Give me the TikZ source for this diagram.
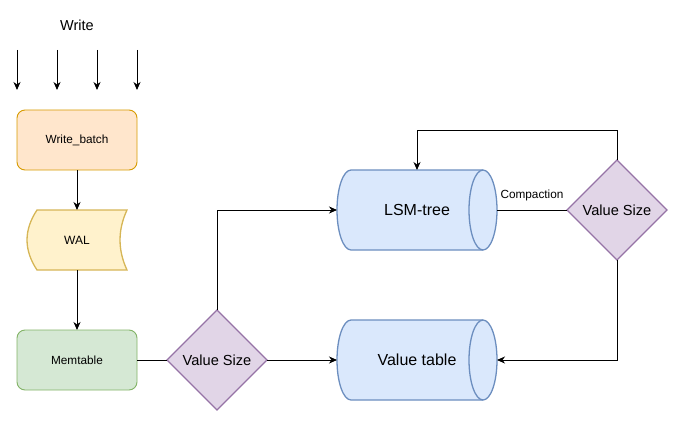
\documentclass[tikz,border=0pt]{standalone}
\usepackage{fontspec}
\setmainfont{Liberation Sans}
\usetikzlibrary{arrows.meta,shapes.geometric}
\definecolor{wbfill}{HTML}{FFE6CC}
\definecolor{wbline}{HTML}{D79B00}
\definecolor{walfill}{HTML}{FFF2CC}
\definecolor{walline}{HTML}{D6B656}
\definecolor{mtfill}{HTML}{D5E8D4}
\definecolor{mtline}{HTML}{82B366}
\definecolor{dfill}{HTML}{E1D5E7}
\definecolor{dline}{HTML}{9673A6}
\definecolor{cfill}{HTML}{DAE8FC}
\definecolor{cline}{HTML}{6C8EBF}
\tikzset{
  arr/.style={line width=0.9pt, -{Stealth[length=8pt,width=7pt,inset=2.5pt]}},
  conn/.style={line width=0.9pt},
  smalltext/.style={font=\fontsize{11.8}{14}\selectfont},
  box/.style={rounded corners=8pt, minimum width=120pt, minimum height=60pt, line width=0.9pt, inner sep=0pt, outer sep=0pt, smalltext},
  dia/.style={diamond, aspect=1, draw=dline, fill=dfill, minimum width=100pt, minimum height=100pt, inner sep=0pt, outer sep=0pt, line width=1.3pt, font=\fontsize{14.6}{17}\selectfont},
  cylbody/.style={draw=cline, fill=cfill, line width=1.3pt},
  cyltext/.style={minimum width=160pt, minimum height=80pt, inner sep=0pt, outer sep=0pt, font=\fontsize{16}{19}\selectfont},
}
\begin{document}
\begin{tikzpicture}[x=1pt,y=1pt]
\useasboundingbox (0,0) rectangle (679,421);
% Write label and input arrows
\node[font=\fontsize{14.5}{17}\selectfont] (write) at (77,396) {Write};
\foreach \i/\x in {1/17,2/57,3/97,4/137}{
  \coordinate (a\i) at (\x,371);
  \coordinate (b\i) at (\x,331);
  \draw[arr] (a\i) -- (b\i);
}
% Write_batch
\node[box, draw=wbline, fill=wbfill] (wb) at (77,281) {Write\_batch};
% WAL shape
\filldraw[draw=walline, fill=walfill, line width=1.3pt]
  (37,211) -- (127,211) .. controls (117.7,191) and (117.7,171) .. (127,151)
  -- (37,151) .. controls (23.7,171) and (23.7,191) .. (37,211) -- cycle;
\node[minimum width=100pt, minimum height=60pt, inner sep=0pt, outer sep=0pt, font=\fontsize{12}{14}\selectfont] (wal) at (77,181) {WAL};
% Memtable
\node[box, draw=mtline, fill=mtfill] (mt) at (77,61) {Memtable};
% Diamonds
\node[dia] (d1) at (217,61) {Value Size};
\node[dia] (d2) at (617,211) {Value Size};
% Cylinders
\filldraw[cylbody] (351,251) -- (483,251) arc[start angle=90,end angle=-90,x radius=14,y radius=40]
  -- (351,171) arc[start angle=270,end angle=90,x radius=14,y radius=40] -- cycle;
\draw[cylbody, fill=none] (483,251) arc[start angle=90,end angle=270,x radius=14,y radius=40];
\node[cyltext] (lsm) at (417,211) {LSM-tree};
\filldraw[cylbody] (351,101) -- (483,101) arc[start angle=90,end angle=-90,x radius=14,y radius=40]
  -- (351,21) arc[start angle=270,end angle=90,x radius=14,y radius=40] -- cycle;
\draw[cylbody, fill=none] (483,101) arc[start angle=90,end angle=270,x radius=14,y radius=40];
\node[cyltext] (vt) at (417,61) {Value table};
% Connectors
\draw[arr] (wb.south) -- (wal.north);
\draw[arr] (wal.south) -- (mt.north);
\draw[conn] (mt.east) -- (d1.west);
\draw[arr] (d1.north) |- (lsm.west);
\draw[arr] (d1.east) -- (vt.west);
\draw[conn] (lsm.east) -- node[midway, yshift=15pt, smalltext, inner sep=0pt] (comp) {Compaction} (d2.west);
\draw[arr] (d2.north) -- ++(0,30) -| (lsm.north);
\draw[arr] (d2.south) |- (vt.east);
\end{tikzpicture}
\end{document}
